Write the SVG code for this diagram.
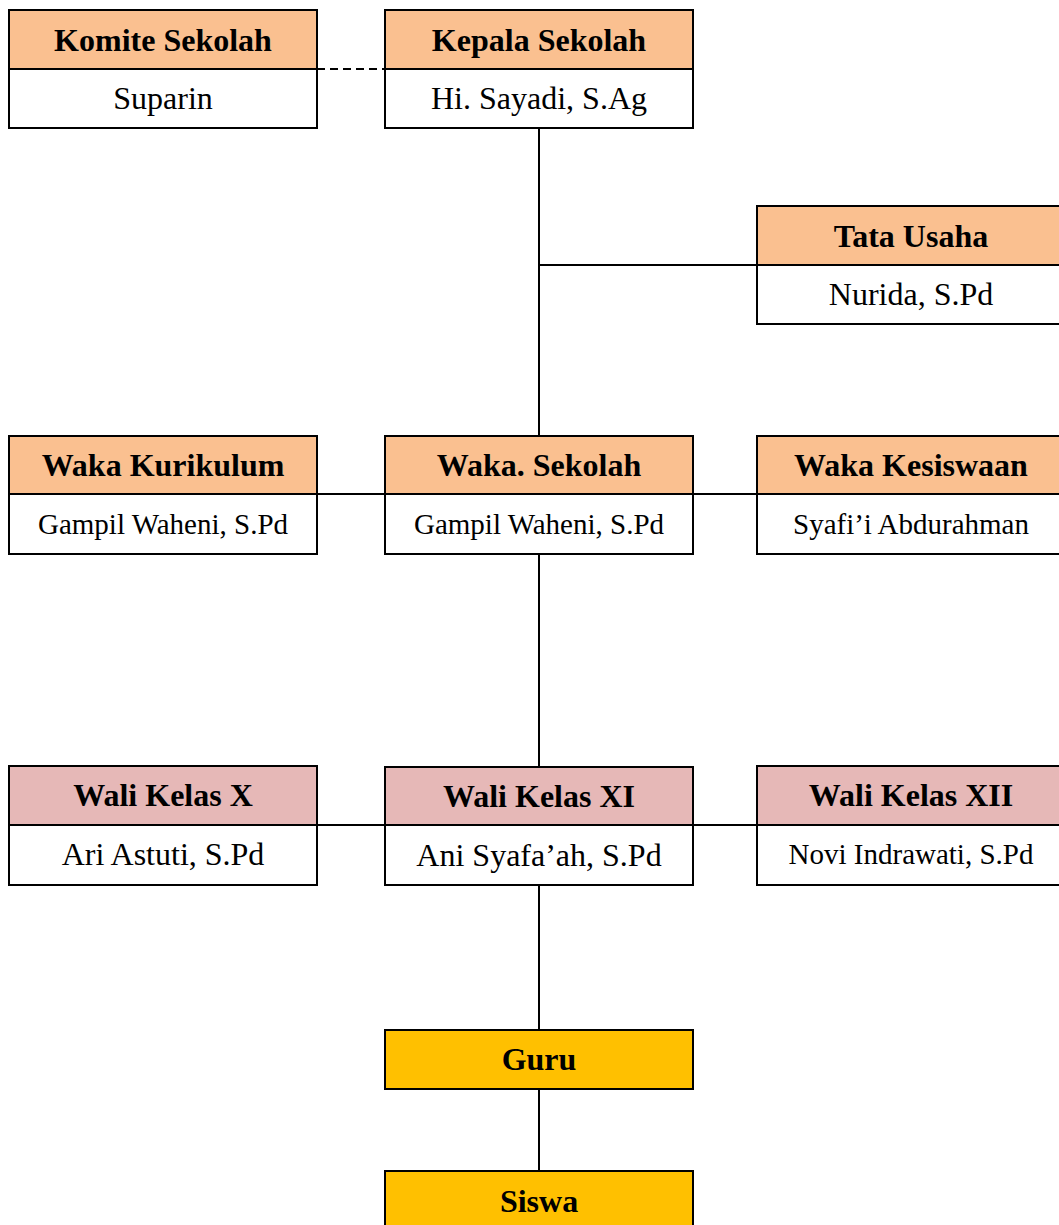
<svg xmlns="http://www.w3.org/2000/svg" width="1059" height="1225" viewBox="0 0 1059 1225">
<style>
.box{stroke:#000;stroke-width:2}
.hd{fill:#FAC090}
.pk{fill:#E6B8B7}
.gd{fill:#FFC000}
.wt{fill:#fff}
text{font-family:"Liberation Serif","Times New Roman",serif;font-size:32px;text-anchor:middle;fill:#000}
.b{font-weight:bold}
.s{font-size:29px}
.ln{stroke:#000;stroke-width:2;fill:none}
</style>
<rect width="1059" height="1225" fill="#fff"/>
<g id="connectors">
<line class="ln" x1="317" y1="69" x2="385" y2="69" stroke-dasharray="8,5"/>
<line class="ln" x1="539" y1="128" x2="539" y2="436"/>
<line class="ln" x1="539" y1="265" x2="757" y2="265"/>
<line class="ln" x1="317" y1="494" x2="385" y2="494"/>
<line class="ln" x1="693" y1="494" x2="757" y2="494"/>
<line class="ln" x1="539" y1="554" x2="539" y2="767"/>
<line class="ln" x1="317" y1="825" x2="385" y2="825"/>
<line class="ln" x1="693" y1="825" x2="757" y2="825"/>
<line class="ln" x1="539" y1="885" x2="539" y2="1030"/>
<line class="ln" x1="539" y1="1089" x2="539" y2="1171"/>
</g>
<g id="komite">
<rect class="box hd" x="9" y="10" width="308" height="59"/>
<rect class="box wt" x="9" y="69" width="308" height="59"/>
<text class="b" x="163" y="51">Komite Sekolah</text>
<text x="163" y="109">Suparin</text>
</g>
<g id="kepala">
<rect class="box hd" x="385" y="10" width="308" height="59"/>
<rect class="box wt" x="385" y="69" width="308" height="59"/>
<text class="b" x="539" y="51">Kepala Sekolah</text>
<text x="539" y="109">Hi. Sayadi, S.Ag</text>
</g>
<g id="tata-usaha">
<rect class="box hd" x="757" y="206" width="308" height="59"/>
<rect class="box wt" x="757" y="265" width="308" height="59"/>
<text class="b" x="911" y="247">Tata Usaha</text>
<text x="911" y="305">Nurida, S.Pd</text>
</g>
<g id="waka-kurikulum">
<rect class="box hd" x="9" y="436" width="308" height="58"/>
<rect class="box wt" x="9" y="494" width="308" height="60"/>
<text class="b" x="163" y="476">Waka Kurikulum</text>
<text class="s" x="163" y="534">Gampil Waheni, S.Pd</text>
</g>
<g id="waka-sekolah">
<rect class="box hd" x="385" y="436" width="308" height="58"/>
<rect class="box wt" x="385" y="494" width="308" height="60"/>
<text class="b" x="539" y="476">Waka. Sekolah</text>
<text class="s" x="539" y="534">Gampil Waheni, S.Pd</text>
</g>
<g id="waka-kesiswaan">
<rect class="box hd" x="757" y="436" width="308" height="58"/>
<rect class="box wt" x="757" y="494" width="308" height="60"/>
<text class="b" x="911" y="476">Waka Kesiswaan</text>
<text class="s" x="911" y="534">Syafi’i Abdurahman</text>
</g>
<g id="wali-x">
<rect class="box pk" x="9" y="766" width="308" height="59"/>
<rect class="box wt" x="9" y="825" width="308" height="60"/>
<text class="b" x="163" y="806">Wali Kelas X</text>
<text x="163" y="865">Ari Astuti, S.Pd</text>
</g>
<g id="wali-xi">
<rect class="box pk" x="385" y="767" width="308" height="58"/>
<rect class="box wt" x="385" y="825" width="308" height="60"/>
<text class="b" x="539" y="807">Wali Kelas XI</text>
<text x="539" y="866">Ani Syafa’ah, S.Pd</text>
</g>
<g id="wali-xii">
<rect class="box pk" x="757" y="766" width="308" height="59"/>
<rect class="box wt" x="757" y="825" width="308" height="60"/>
<text class="b" x="911" y="806">Wali Kelas XII</text>
<text class="s" x="911" y="864">Novi Indrawati, S.Pd</text>
</g>
<g id="guru">
<rect class="box gd" x="385" y="1030" width="308" height="59"/>
<text class="b" x="539" y="1070">Guru</text>
</g>
<g id="siswa">
<rect class="box gd" x="385" y="1171" width="308" height="60"/>
<text class="b" x="539" y="1212">Siswa</text>
</g>
</svg>
